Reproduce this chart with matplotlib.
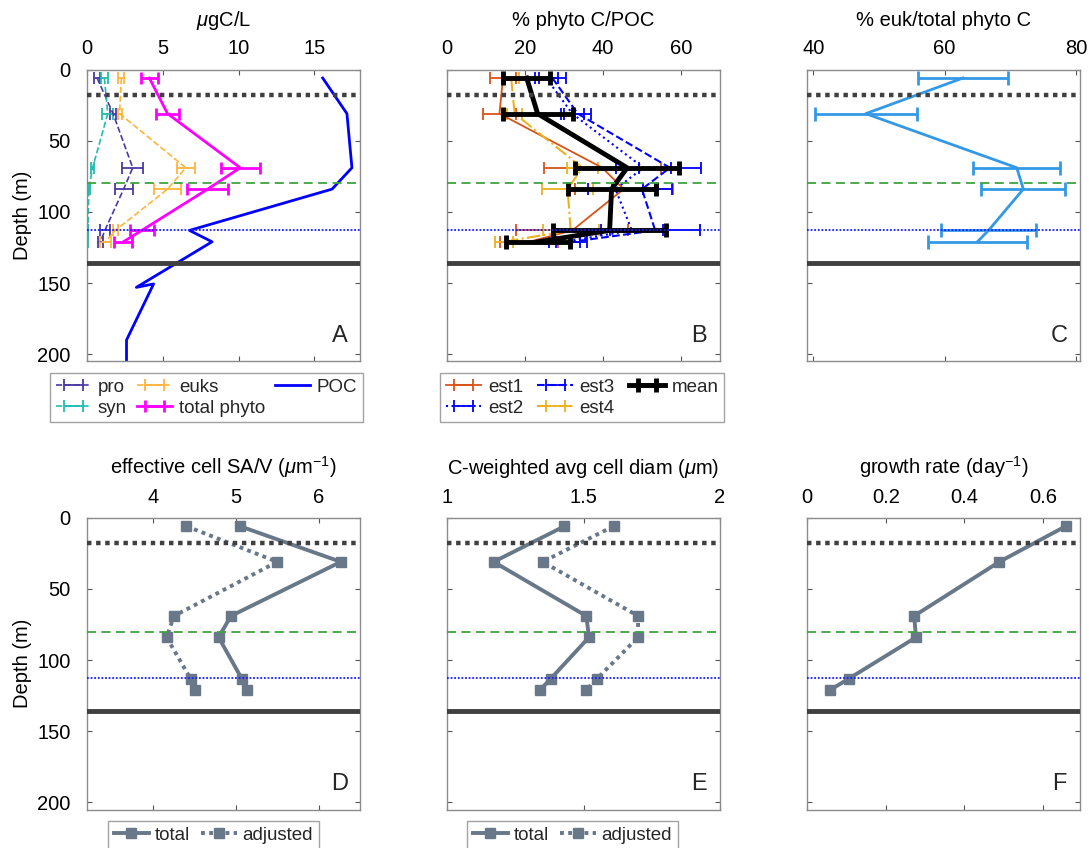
import matplotlib
matplotlib.use("Agg")
import matplotlib.pyplot as plt

plt.rcParams["font.family"] = ["Liberation Sans", "DejaVu Sans"]
plt.rcParams["mathtext.fontset"] = "custom"
plt.rcParams["mathtext.rm"] = "Liberation Sans"
plt.rcParams["mathtext.it"] = "Liberation Sans:italic"
plt.rcParams["text.color"] = "#262626"

# sampling depths (m)
depth = [6, 31, 69, 84, 113, 121]

# carbon biomass (ugC/L)
pro = [0.65, 1.7, 3.0, 2.4, 1.16, 0.87]
pro_err = [0.2, 0.2, 0.7, 0.6, 0.33, 0.18]
syn = [1.13, 1.35, 0.35, 0.1, 0.04, 0.03]
syn_err = [0.25, 0.35, 0.12, 0.05, 0.02, 0.02]
euks = [2.25, 2.13, 6.5, 5.3, 1.85, 1.2]
euks_err = [0.2, 0.13, 0.6, 0.9, 0.15, 0.35]
total_phyto = [4.1, 5.3, 10.1, 7.95, 3.6, 2.38]
total_phyto_err = [0.55, 0.75, 1.3, 1.35, 0.8, 0.6]

poc_depth = [6, 31, 69, 84, 113, 121, 153, 150.6, 190, 210]
poc = [15.55, 17.15, 17.48, 16.17, 6.75, 8.24, 3.24, 4.38, 2.59, 2.59]

# % phyto C / POC, four estimates + mean
est1 = [14.3, 13.4, 39.8, 45.3, 32.1, 21.0]
est1_err = [3.4, 4.2, 15.0, 12.6, 14.4, 7.5]
est2 = [25.4, 32.1, 50.4, 43.2, 47.4, 30.0]
est2_err = [3.0, 3.0, 7.0, 7.0, 8.0, 4.0]
est3 = [27.0, 33.5, 57.2, 50.0, 53.4, 32.0]
est3_err = [3.5, 3.5, 8.0, 7.7, 11.5, 4.0]
est4 = [16.4, 17.3, 34.7, 30.9, 31.7, 14.5]
est4_err = [2.0, 2.0, 4.0, 6.6, 7.2, 2.3]
est_mean = [20.4, 23.2, 46.2, 42.2, 41.7, 23.3]
est_mean_err = [6.0, 9.0, 13.4, 11.3, 14.5, 8.1]

# % euk / total phyto C
euk_frac = [62.8, 48.0, 71.0, 72.0, 66.7, 65.0]
euk_frac_err = [6.9, 7.8, 6.6, 6.4, 7.3, 7.5]

# cell properties
sav_total = [5.05, 6.27, 4.94, 4.79, 5.07, 5.13]
sav_adj = [4.40, 5.50, 4.25, 4.16, 4.45, 4.50]
diam_total = [1.43, 1.17, 1.51, 1.52, 1.38, 1.34]
diam_adj = [1.61, 1.35, 1.70, 1.70, 1.55, 1.51]
growth = [0.658, 0.489, 0.272, 0.277, 0.106, 0.058]

# reference depths: mixed layer, DCM, 1% light, nitracline
ref_lines = [18, 80, 112.5, 136]

SLATE = "#687889"
FS = 14.5
LEG_FS = 13.5

fig = plt.figure(figsize=(10.89, 8.48), dpi=100)

W, H = 1089, 848
lefts = [87.3, 447.3, 807.3]
width = 272.5
top_rows = [69.5, 517.7]
height = 291.9


def make_ax(col, row):
    l = lefts[col] / W
    b = 1 - (top_rows[row] + height) / H
    ax = fig.add_axes([l, b, width / W, height / H])
    ax.set_ylim(205, 0)
    ax.set_yticks([0, 50, 100, 150, 200])
    ax.xaxis.set_ticks_position("both")
    ax.yaxis.set_ticks_position("both")
    ax.xaxis.set_label_position("top")
    ax.tick_params(axis="both", direction="in", length=3.5, width=0.8,
                   color="#555555", labelsize=FS, labeltop=True,
                   labelbottom=False, pad=8)
    ax.tick_params(axis="y", pad=12)
    for s in ax.spines.values():
        s.set_color("#8c8c8c")
        s.set_linewidth(1.0)
    if col == 0:
        ax.set_ylabel("Depth (m)", fontsize=FS, labelpad=4)
    else:
        ax.tick_params(axis="y", labelleft=False)
    return ax


def ref_depths(ax):
    ax.axhline(ref_lines[0], color="#404040", lw=3.2, dashes=(1, 1.05), zorder=6)
    ax.axhline(ref_lines[1], color="#3fa33f", lw=1.3, dashes=(5, 3), zorder=6)
    ax.axhline(ref_lines[2], color="#1a1aff", lw=1.3, dashes=(1, 1), zorder=6)
    ax.axhline(ref_lines[3], color="#404040", lw=3.5, zorder=6)


def panel_letter(ax, s):
    ax.text(0.925, 0.05, s, transform=ax.transAxes, fontsize=17,
            ha="center", va="bottom")


def top_legend(handles, x0, w):
    fig.legend(handles=handles, ncol=3, fontsize=LEG_FS, loc="upper left",
               bbox_to_anchor=(x0 / W, 1 - 428 / H, w / W, 55 / H),
               mode="expand", frameon=True, fancybox=False, edgecolor="#8c8c8c",
               handlelength=1.9, handletextpad=0.35, borderpad=0.3,
               labelspacing=0.2, columnspacing=0.5, borderaxespad=0)


def bottom_legend(handles, x0):
    fig.legend(handles=handles, ncol=2, fontsize=LEG_FS, loc="upper left",
               bbox_to_anchor=(x0 / W, 1 - 821 / H), frameon=True,
               fancybox=False, edgecolor="#8c8c8c", handlelength=1.9,
               handletextpad=0.3, borderpad=0.3, columnspacing=0.6,
               borderaxespad=0)


# ---- A: carbon biomass ----
axA = make_ax(0, 0)
ebA = dict(capsize=4, elinewidth=1.3, capthick=1.3)
h_pro = axA.errorbar(pro, depth, xerr=pro_err, color="#4a3aa3", ls="--", lw=1.2,
                     label="pro", **ebA)
h_syn = axA.errorbar(syn, depth, xerr=syn_err, color="#1ebdb0", ls="--", lw=1.2,
                     label="syn", **ebA)
h_euk = axA.errorbar(euks, depth, xerr=euks_err, color="#ffb43c", ls="--", lw=1.2,
                     label="euks", **ebA)
h_tot = axA.errorbar(total_phyto, depth, xerr=total_phyto_err, color="#ff00ff",
                     lw=2, capsize=4, elinewidth=2, capthick=2, label="total phyto")
h_poc, = axA.plot(poc, poc_depth, color="#0000ff", lw=2, label="POC")
axA.set_xlim(0, 18)
axA.set_xticks([0, 5, 10, 15])
axA.set_xlabel(r"$\mu$gC/L", fontsize=FS, labelpad=10)
ref_depths(axA)
panel_letter(axA, "A")
top_legend([h_pro, h_syn, h_euk, h_tot, h_poc], 50, 313)

# ---- B: % phyto C / POC ----
axB = make_ax(1, 0)
ebB = dict(capsize=4, elinewidth=1.3, capthick=1.3)
h_e1 = axB.errorbar(est1, depth, xerr=est1_err, color="#d95319", lw=1.3,
                    label="est1", **ebB)
h_e2 = axB.errorbar(est2, depth, xerr=est2_err, color="#0000ff", ls=":", lw=1.5,
                    label="est2", **ebB)
h_e3 = axB.errorbar(est3, depth, xerr=est3_err, color="#0000ff", ls="--", lw=1.5,
                    label="est3", **ebB)
h_e4 = axB.errorbar(est4, depth, xerr=est4_err, color="#edb120", ls="-.", lw=1.5,
                    label="est4", **ebB)
h_em = axB.errorbar(est_mean, depth, xerr=est_mean_err, color="black", lw=3.5,
                    capsize=5, elinewidth=3.5, capthick=3.5, label="mean", zorder=4)
axB.set_xlim(0, 70)
axB.set_xticks([0, 20, 40, 60])
axB.set_xlabel("% phyto C/POC", fontsize=FS, labelpad=10)
ref_depths(axB)
panel_letter(axB, "B")
top_legend([h_e1, h_e2, h_e3, h_e4, h_em], 440, 284)

# ---- C: % euk / total phyto C ----
axC = make_ax(2, 0)
axC.errorbar(euk_frac, depth, xerr=euk_frac_err, color="#3399e6", lw=2,
             capsize=5, elinewidth=2, capthick=2)
axC.set_xlim(39.1, 80.6)
axC.set_xticks([40, 60, 80])
axC.set_xlabel("% euk/total phyto C", fontsize=FS, labelpad=10)
ref_depths(axC)
panel_letter(axC, "C")

# ---- D: surface area / volume ----
mk = dict(marker="s", ms=7.5, color=SLATE, mec=SLATE)
axD = make_ax(0, 1)
h_tD, = axD.plot(sav_total, depth, lw=2.8, label="total", **mk)
h_aD, = axD.plot(sav_adj, depth, lw=2.8, dashes=(1, 1.1), label="adjusted", **mk)
axD.set_xlim(3.2, 6.5)
axD.set_xticks([4, 5, 6])
axD.set_xlabel(r"effective cell SA/V ($\mu$m$^{-1}$)", fontsize=FS, labelpad=10)
ref_depths(axD)
panel_letter(axD, "D")
bottom_legend([h_tD, h_aD], 108)

# ---- E: cell diameter ----
axE = make_ax(1, 1)
h_tE, = axE.plot(diam_total, depth, lw=2.8, label="total", **mk)
h_aE, = axE.plot(diam_adj, depth, lw=2.8, dashes=(1, 1.1), label="adjusted", **mk)
axE.set_xlim(1, 2)
axE.set_xticks([1, 1.5, 2])
axE.set_xticklabels(["1", "1.5", "2"])
axE.set_xlabel(r"C-weighted avg cell diam ($\mu$m)", fontsize=FS, labelpad=10)
ref_depths(axE)
panel_letter(axE, "E")
bottom_legend([h_tE, h_aE], 467)

# ---- F: growth rate ----
axF = make_ax(2, 1)
axF.plot(growth, depth, lw=2.8, **mk)
axF.set_xlim(0, 0.694)
axF.set_xticks([0, 0.2, 0.4, 0.6])
axF.set_xticklabels(["0", "0.2", "0.4", "0.6"])
axF.set_xlabel(r"growth rate (day$^{-1}$)", fontsize=FS, labelpad=10)
ref_depths(axF)
panel_letter(axF, "F")

fig.savefig("out.png", dpi=100)
